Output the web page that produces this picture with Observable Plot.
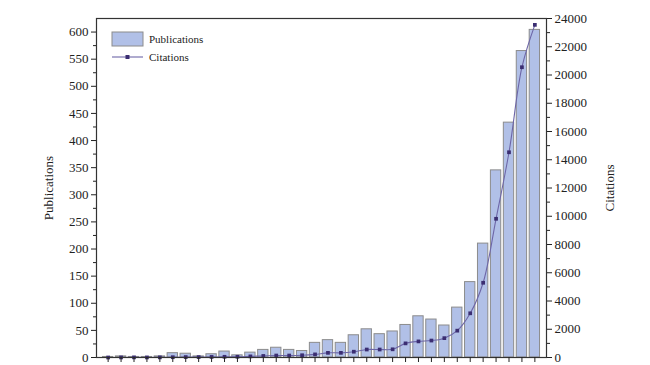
<!DOCTYPE html>
<html><head><meta charset="utf-8">
<script src="https://cdn.jsdelivr.net/npm/d3@7"></script>
<script src="https://cdn.jsdelivr.net/npm/@observablehq/plot@0.6"></script>
<style>
body{margin:0;background:#fff;}
#wrap{position:relative;width:650px;height:365px;}
#legend{position:absolute;left:0;top:0;pointer-events:none;}
</style></head><body><div id="wrap"></div>
<script>
const years = [1990,1991,1992,1993,1994,1995,1996,1997,1998,1999,2000,2001,2002,2003,2004,2005,2006,2007,2008,2009,2010,2011,2012,2013,2014,2015,2016,2017,2018,2019,2020,2021,2022,2023];
const publications = [1,2,1,1,2,8,7,2,6,11,4,9,14,18,14,12,27,32,27,41,52,43,48,60,76,70,59,92,139,210,345,433,565,604];
const citations = [0,5,10,5,10,20,30,30,40,50,50,80,110,140,140,160,220,330,330,410,565,565,580,1000,1140,1200,1370,1900,3130,5290,9820,14530,20550,23550];
const pubTicks = [0,50,100,150,200,250,300,350,400,450,500,550,600];
const citTicks = [0,2000,4000,6000,8000,10000,12000,14000,16000,18000,20000,22000,24000];

const pubMax = 625, citMax = 24000, k = pubMax / citMax;
const data = years.map((y, i) => ({year: y, pub: publications[i], cit: citations[i] * k}));
const font = "'Liberation Serif', 'Times New Roman', serif";

const chart = Plot.plot({
  width: 650, height: 365,
  marginLeft: 96, marginRight: 104, marginTop: 18, marginBottom: 8,
  style: {fontFamily: font, fontSize: "13px", color: "#222", background: "white"},
  x: {type: "band", domain: years, paddingInner: 0.2, paddingOuter: 0.5, axis: null},
  y: {domain: [0, pubMax], axis: null},
  marks: [
    Plot.barY(data, {x: "year", y: "pub", fill: "#b1c0e7", stroke: "#8c8c8c", strokeWidth: 1}),
    Plot.line(data, {x: "year", y: "cit", stroke: "#6d66a8", strokeWidth: 1.1, curve: "catmull-rom"}),
    Plot.dot(data, {x: "year", y: "cit", symbol: "square", r: 2.1, fill: "#3b2e72", stroke: "none"}),
    Plot.frame({stroke: "#333", strokeWidth: 1.2}),
    Plot.axisX({anchor: "bottom", tickSize: 5, tickFormat: () => "", label: null, stroke: "#222"}),
    Plot.axisY(pubTicks, {anchor: "left", tickSize: 5, tickPadding: 3, label: "Publications", labelAnchor: "center", labelArrow: "none", labelOffset: 53, fontSize: 13}),
    Plot.axisY(pubTicks.slice(0, -1).map(v => v + 25), {anchor: "left", tickSize: 3, tickFormat: () => "", label: null}),
    Plot.axisY(citTicks.map(v => v * k), {anchor: "right", tickSize: 5, tickPadding: 3, tickFormat: d => String(Math.round(d / k)), label: "Citations", labelAnchor: "center", labelArrow: "none", labelOffset: 67, fontSize: 13}),
    Plot.axisY(citTicks.slice(0, -1).map(v => (v + 1000) * k), {anchor: "right", tickSize: 3, tickFormat: () => "", label: null})
  ]
});
const wrap = document.getElementById("wrap");
wrap.appendChild(chart);

// legend overlay
const lg = d3.select(wrap).append("svg").attr("id", "legend").attr("width", 650).attr("height", 365)
  .style("font-family", font).style("font-size", "11px");
lg.append("rect").attr("x", 112).attr("y", 32).attr("width", 31).attr("height", 14)
  .attr("fill", "#b1c0e7").attr("stroke", "#8c8c8c");
lg.append("text").attr("x", 149).attr("y", 43).text("Publications").attr("fill", "#222");
lg.append("line").attr("x1", 112).attr("x2", 143).attr("y1", 57).attr("y2", 57)
  .attr("stroke", "#6d66a8").attr("stroke-width", 1.1);
lg.append("rect").attr("x", 125.5).attr("y", 55).attr("width", 4).attr("height", 4).attr("fill", "#3b2e72");
lg.append("text").attr("x", 149).attr("y", 61).text("Citations").attr("fill", "#222");
</script></body></html>
